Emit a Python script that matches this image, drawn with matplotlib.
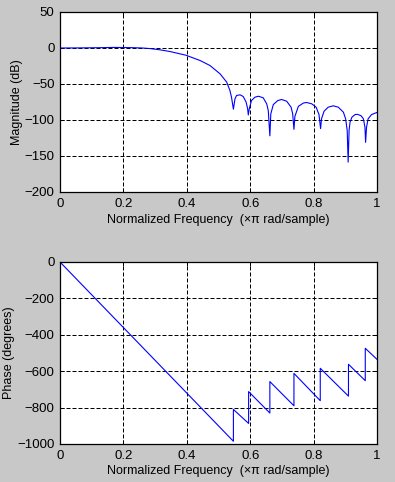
import matplotlib
matplotlib.use("Agg")
import matplotlib.pyplot as plt

# Magnitude response (normalized freq, dB)
mag_freq = [0, 0.05, 0.12, 0.17, 0.226, 0.26, 0.284, 0.315, 0.347, 0.397,
            0.442, 0.473, 0.505, 0.526, 0.536, 0.541, 0.547, 0.552, 0.557, 0.568,
            0.578, 0.587, 0.592, 0.594, 0.597, 0.604, 0.615, 0.626, 0.641, 0.652,
            0.657, 0.662, 0.665, 0.673, 0.687, 0.699, 0.715, 0.729, 0.734, 0.738,
            0.741, 0.752, 0.768, 0.778, 0.794, 0.808, 0.817, 0.822, 0.825, 0.833,
            0.846, 0.862, 0.878, 0.894, 0.901, 0.906, 0.909, 0.912, 0.915, 0.921,
            0.931, 0.939, 0.950, 0.957, 0.962, 0.964, 0.967, 0.972, 0.983, 0.997,
            1.0]
mag_db = [0, 0.1, 0.4, 0.8, 0.5, 0.0, -0.8, -2.5, -4.9, -10,
          -17.4, -24.3, -35.9, -47.5, -59, -68.3, -85, -70.6, -66, -65,
          -67.4, -75, -84.5, -93, -84.5, -73, -68.3, -67, -69.2, -77.5,
          -86.8, -122, -91.4, -78.5, -73, -71.5, -73.9, -82.2, -91.4, -113,
          -95, -81, -76.4, -75.7, -77.5, -82.2, -92.4, -112, -98.3, -87.8,
          -82.2, -80.3, -82.2, -89.2, -98.3, -114.6, -158.5, -114, -103, -96,
          -92.4, -92.2, -94.2, -98.3, -110, -131, -110, -98.3, -92.4, -90,
          -89.5]

# Phase response (degrees)
ph_freq = [0, 0.547, 0.547, 0.595, 0.595, 0.662, 0.662, 0.738, 0.738,
           0.821, 0.821, 0.910, 0.910, 0.963, 0.963, 1.0]
ph_deg = [0, -985, -810, -887, -712, -830, -657, -790, -612,
          -762, -584, -737, -562, -652, -474, -535]

xticks = [0, 0.2, 0.4, 0.6, 0.8, 1]
mag_ticks = [50, 0, -50, -100, -150, -200]
ph_ticks = [0, -200, -400, -600, -800, -1000]
xlabel = "Normalized Frequency  (\u00d7\u03c0 rad/sample)"

plt.rcParams['font.family'] = ['Liberation Sans', 'DejaVu Sans']

fig = plt.figure(figsize=(3.95, 4.82), dpi=100, facecolor='#c8c8c8')
ax1 = fig.add_axes([60 / 395, 1 - 192 / 482, 317 / 395, 180 / 482])
ax2 = fig.add_axes([60 / 395, 1 - 444 / 482, 317 / 395, 182 / 482])

ax1.plot(mag_freq, mag_db, color='#0000ff', lw=0.8)
ax2.plot(ph_freq, ph_deg, color='#0000ff', lw=0.8)

for ax, yt, lo, hi in [(ax1, mag_ticks, -200, 50), (ax2, ph_ticks, -1000, 0)]:
    ax.set_facecolor('white')
    ax.set_xlim(0, 1)
    ax.set_ylim(lo, hi)
    ax.set_xticks(xticks)
    ax.set_xticklabels(['0', '0.2', '0.4', '0.6', '0.8', '1'])
    ax.set_yticks(yt)
    ax.grid(True, color='black', linestyle=(0, (4, 2)), linewidth=0.72)
    ax.tick_params(direction='in', length=3, width=0.72, top=True, right=True,
                   labelsize=9.5, pad=4, colors='black')
    for sp in ax.spines.values():
        sp.set_linewidth(0.9)
        sp.set_color('black')
    ax.set_xlabel(xlabel, fontsize=9)

ax1.set_ylabel('Magnitude (dB)', fontsize=9)
ax2.set_ylabel('Phase (degrees)', fontsize=9)
ax1.yaxis.set_label_coords(-0.118, 0.5)
ax2.yaxis.set_label_coords(-0.142, 0.5)
ax1.xaxis.set_label_coords(0.5, -0.122)
ax2.xaxis.set_label_coords(0.5, -0.118)

fig.savefig('out.png', dpi=100, facecolor=fig.get_facecolor())
